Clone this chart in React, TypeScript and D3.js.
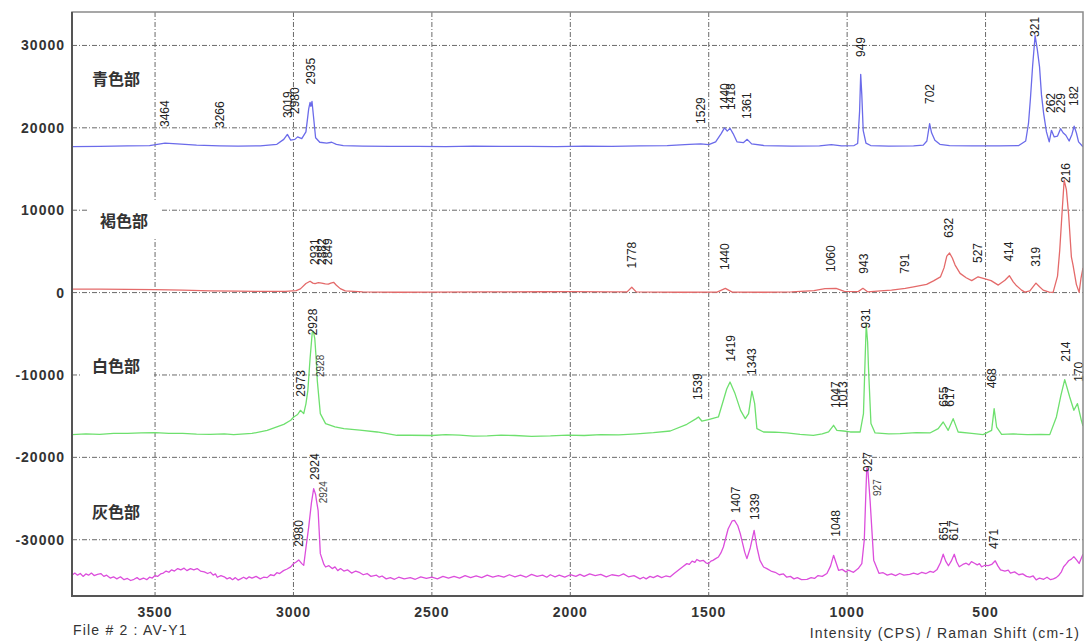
import React from "react";
import * as d3 from "d3";

type Pt = [number, number];
type Peak = { text: string; x: number; y: number };

// ---- axis ticks ----
const xTicks = [3500, 3000, 2500, 2000, 1500, 1000, 500];
const yTicks = [30000, 20000, 10000, 0, -10000, -20000, -30000];

// ---- series names ----
const seriesNames = ["青色部", "褐色部", "白色部", "灰色部"];
const seriesNameLevels = [26000, 8800, -8800, -26500];

// ---- 青色部 (blue) ----
const blueSpectrum: Pt[] = [
  [3800, 17720], [3700, 17760], [3600, 17800], [3520, 17850], [3464, 18150], [3420, 18050],
  [3350, 17900], [3266, 17820], [3200, 17780], [3120, 17820], [3060, 18000], [3035, 18600],
  [3022, 19200], [3010, 18500], [2995, 18600], [2985, 18900], [2970, 18700], [2955, 19500],
  [2945, 22300], [2940, 23100], [2937, 22600], [2933, 23200], [2928, 21500], [2920, 18800],
  [2905, 18250], [2880, 18150], [2862, 18250], [2845, 18000], [2820, 17850], [2750, 17780],
  [2650, 17740], [2550, 17760], [2450, 17720], [2350, 17780], [2250, 17740], [2150, 17760],
  [2050, 17720], [1950, 17780], [1850, 17760], [1750, 17800], [1650, 17850], [1570, 18000],
  [1529, 18050], [1500, 17950], [1475, 18300], [1455, 19300], [1443, 20000], [1433, 19600],
  [1423, 19950], [1412, 19300], [1398, 18300], [1375, 18200], [1361, 18600], [1345, 18050],
  [1300, 17850], [1200, 17780], [1100, 17800], [1057, 17950], [1020, 17820], [975, 17850],
  [962, 18100], [955, 22000], [951, 26500], [947, 24000], [942, 19700], [932, 18150],
  [915, 17850], [850, 17780], [760, 17800], [725, 17900], [712, 18400], [702, 20500],
  [695, 19400], [683, 18500], [665, 18000], [630, 17850], [550, 17800], [450, 17800],
  [380, 17850], [355, 18400], [345, 20500], [338, 23500], [330, 27500], [321, 31200],
  [313, 29500], [305, 27400], [298, 24000], [290, 21700], [280, 19500], [270, 18300],
  [262, 19700], [252, 18900], [240, 19000], [229, 19900], [220, 19400], [210, 19100],
  [198, 18400], [188, 19200], [180, 20200], [172, 19400], [164, 18300], [148, 17700],
];
const bluePeaks: Peak[] = [
  { text: "3464", x: 3464, y: 20100 }, { text: "3266", x: 3266, y: 19980 },
  { text: "3019", x: 3019, y: 21190 }, { text: "2980", x: 2995, y: 21680 },
  { text: "2935", x: 2935, y: 25260 }, { text: "1529", x: 1529, y: 20470 },
  { text: "1440", x: 1440, y: 22170 }, { text: "1418", x: 1418, y: 22170 },
  { text: "1361", x: 1361, y: 21070 }, { text: "949", x: 949, y: 28600 },
  { text: "702", x: 702, y: 22890 }, { text: "321", x: 321, y: 31030 },
  { text: "262", x: 262, y: 21800 }, { text: "229", x: 229, y: 21800 },
  { text: "182", x: 182, y: 22650 },
];

// ---- 褐色部 (red) ----
const redSpectrum: Pt[] = [
  [3800, 430], [3700, 420], [3600, 390], [3500, 360], [3400, 300], [3300, 220], [3200, 170],
  [3100, 150], [3030, 150], [2990, 250], [2975, 450], [2955, 1100], [2940, 1380], [2930, 1150],
  [2922, 1100], [2910, 1200], [2898, 1150], [2885, 1050], [2874, 1020], [2865, 1150],
  [2855, 1250], [2845, 900], [2831, 480], [2813, 200], [2750, 80], [2620, 40], [2500, 60],
  [2300, 80], [2100, 100], [2000, 110], [1850, 80], [1795, 90], [1778, 650], [1762, 90],
  [1600, 40], [1470, 60], [1440, 520], [1415, 60], [1300, 40], [1200, 80], [1120, 250],
  [1080, 480], [1040, 500], [1010, 150], [960, 120], [943, 520], [925, 80], [880, 200],
  [840, 300], [790, 500], [760, 700], [713, 1000], [688, 1430], [663, 1900], [650, 3000],
  [640, 4430], [630, 4800], [620, 4200], [610, 3340], [592, 2330], [570, 1800], [550, 1450],
  [527, 1920], [505, 1700], [480, 1450], [454, 910], [430, 1500], [414, 2050], [400, 1300],
  [390, 900], [370, 300], [358, 60], [340, 200], [318, 1150], [305, 700], [292, 300],
  [270, 50], [256, 30], [240, 2000], [232, 5160], [224, 9500], [216, 13660], [208, 12500],
  [200, 9500], [190, 4350], [184, 3340], [172, 1000], [162, 30], [155, 1800], [148, 3000],
];
const redPeaks: Peak[] = [
  { text: "2931", x: 2922, y: 3350 }, { text: "2882", x: 2898, y: 3350 },
  { text: "2849", x: 2874, y: 3350 }, { text: "1778", x: 1778, y: 2930 },
  { text: "1440", x: 1440, y: 2740 }, { text: "1060", x: 1060, y: 2500 },
  { text: "943", x: 938, y: 2300 }, { text: "791", x: 791, y: 2300 },
  { text: "632", x: 632, y: 6660 }, { text: "527", x: 527, y: 3590 },
  { text: "414", x: 414, y: 3760 }, { text: "319", x: 319, y: 3130 },
  { text: "216", x: 208, y: 13300 },
];

// ---- 白色部 (green) ----
const greenSpectrum: Pt[] = [
  [3800, -17240], [3750, -17150], [3700, -17200], [3650, -17080], [3600, -17100], [3550, -17020],
  [3500, -17000], [3450, -17080], [3400, -17100], [3350, -17180], [3300, -17200], [3250, -17150],
  [3216, -17240], [3150, -17100], [3095, -16720], [3060, -16300], [3035, -15990], [3010, -15500],
  [2999, -15100], [2985, -14800], [2975, -14290], [2963, -14690], [2955, -13500], [2948, -11860],
  [2940, -8000], [2932, -4780], [2928, -4700], [2923, -5580], [2918, -8000], [2914, -10650],
  [2903, -14690], [2884, -15900], [2850, -16300], [2818, -16510], [2760, -16700], [2698, -16920],
  [2626, -17320], [2578, -17320], [2500, -17350], [2450, -17250], [2400, -17300], [2350, -17420],
  [2300, -17400], [2250, -17300], [2200, -17350], [2140, -17450], [2072, -17400], [2010, -17300],
  [1950, -17350], [1890, -17250], [1825, -17280], [1760, -17150], [1700, -17000], [1639, -16800],
  [1579, -15990], [1545, -15300], [1537, -15100], [1525, -15590], [1501, -15420], [1465, -15100],
  [1447, -13070], [1435, -11700], [1423, -10850], [1405, -12260], [1385, -14300], [1368, -15300],
  [1356, -14690], [1344, -11950], [1334, -13480], [1326, -16510], [1302, -16920], [1260, -16950],
  [1218, -17040], [1170, -17200], [1122, -17320], [1090, -17150], [1067, -16920], [1049, -16110],
  [1037, -16720], [1013, -16800], [989, -16920], [953, -16920], [941, -14690], [935, -8000],
  [931, -3900], [926, -6000], [923, -9030], [914, -15900], [899, -17040], [850, -17150],
  [809, -17120], [750, -17000], [701, -17040], [671, -16510], [653, -15710], [635, -16720],
  [617, -15300], [599, -16920], [550, -17100], [509, -17240], [478, -16720], [469, -14080],
  [460, -16320], [442, -17200], [400, -17150], [350, -17250], [300, -17200], [268, -17240],
  [244, -15100], [228, -12500], [214, -10560], [196, -12670], [181, -14290], [168, -13480],
  [154, -15500], [148, -16200],
];
const greenPeaks: Peak[] = [
  { text: "2928", x: 2928, y: -5190 }, { text: "2973", x: 2973, y: -12640 },
  { text: "1539", x: 1539, y: -13040 }, { text: "1419", x: 1419, y: -8390 },
  { text: "1343", x: 1343, y: -10000 }, { text: "1047", x: 1040, y: -14010 },
  { text: "1013", x: 1016, y: -14010 }, { text: "931", x: 931, y: -4350 },
  { text: "655", x: 651, y: -13850 }, { text: "617", x: 630, y: -13850 },
  { text: "468", x: 475, y: -11620 }, { text: "214", x: 211, y: -8390 },
  { text: "170", x: 163, y: -10820 },
];
const greenMinorPeaks: Peak[] = [{ text: "2928", x: 2902, y: -10250 }];

// ---- 灰色部 (magenta) ----
const magentaSpectrum: Pt[] = [
  [3800, -34320], [3790, -34050], [3780, -34300], [3770, -34100], [3760, -34450], [3750, -34150],
  [3740, -34300], [3730, -34050], [3720, -34350], [3708, -34200], [3696, -34110], [3685, -34450],
  [3675, -34300], [3662, -34650], [3650, -34500], [3638, -34750], [3625, -34500], [3612, -34850],
  [3600, -34700], [3588, -34950], [3576, -34800], [3565, -34600], [3555, -34850], [3542, -34650],
  [3530, -34850], [3520, -34550], [3510, -34650], [3500, -34350], [3491, -34450], [3480, -34150],
  [3470, -34050], [3460, -33800], [3450, -33950], [3440, -33650], [3430, -33800], [3418, -33500],
  [3407, -33650], [3395, -33450], [3385, -33750], [3372, -33500], [3360, -33650], [3348, -33500],
  [3336, -33800], [3322, -33900], [3310, -34100], [3300, -33950], [3290, -34300], [3282, -34150],
  [3275, -34550], [3262, -34350], [3250, -34500], [3240, -34750], [3230, -34600], [3220, -34850],
  [3210, -34600], [3200, -34900], [3191, -34750], [3180, -34550], [3170, -34750], [3160, -34500],
  [3150, -34650], [3135, -34450], [3120, -34750], [3108, -34550], [3095, -34600], [3083, -34250],
  [3070, -34350], [3060, -34000], [3050, -34100], [3036, -33750], [3023, -33550], [3010, -33300],
  [3000, -32900], [2990, -32700], [2981, -32450], [2970, -32900], [2963, -33110], [2955, -31000],
  [2945, -28460], [2935, -25500], [2927, -23800], [2920, -24500], [2917, -25220], [2911, -26430],
  [2907, -29000], [2903, -31690], [2890, -33000], [2884, -33310], [2872, -33150], [2860, -33500],
  [2850, -33300], [2840, -33750], [2830, -33500], [2818, -33800], [2805, -33650], [2790, -34050],
  [2775, -33800], [2760, -34000], [2748, -34250], [2734, -34100], [2720, -34450], [2700, -34300],
  [2690, -34550], [2680, -34400], [2665, -34750], [2650, -34600], [2635, -34800], [2620, -34550],
  [2600, -34750], [2578, -34600], [2560, -34800], [2540, -34500], [2520, -34700], [2500, -34550],
  [2480, -34750], [2460, -34450], [2440, -34650], [2420, -34450], [2400, -34650], [2380, -34350],
  [2360, -34600], [2340, -34400], [2320, -34600], [2300, -34300], [2280, -34550], [2260, -34350],
  [2240, -34550], [2220, -34250], [2200, -34500], [2180, -34300], [2160, -34550], [2140, -34200],
  [2120, -34450], [2100, -34300], [2085, -34550], [2072, -34250], [2055, -34500], [2040, -34300],
  [2020, -34550], [2000, -34250], [1980, -34450], [1965, -34200], [1950, -34450], [1930, -34150],
  [1910, -34350], [1890, -34200], [1870, -34500], [1850, -34250], [1825, -34400], [1808, -34150],
  [1790, -34500], [1770, -34350], [1748, -34750], [1736, -34550], [1726, -34750], [1712, -34450],
  [1700, -34600], [1685, -34350], [1670, -34600], [1655, -34400], [1639, -34500], [1625, -34100],
  [1610, -33700], [1595, -33300], [1579, -32900], [1570, -33000], [1560, -32600], [1550, -32750],
  [1543, -32400], [1532, -32600], [1520, -32500], [1510, -32800], [1501, -32900], [1492, -32600],
  [1485, -32500], [1475, -32300], [1465, -32100], [1456, -31600], [1447, -30880], [1430, -28700],
  [1415, -27700], [1407, -27640], [1395, -28300], [1386, -29260], [1370, -31500], [1362, -32290],
  [1350, -31000], [1336, -28860], [1326, -30880], [1315, -32500], [1302, -33310], [1290, -33500],
  [1275, -33800], [1260, -33950], [1245, -34250], [1230, -34150], [1218, -34550], [1205, -34450],
  [1192, -34750], [1180, -34600], [1165, -34850], [1145, -34800], [1130, -34600], [1118, -34700],
  [1105, -34350], [1090, -34450], [1073, -34100], [1060, -33200], [1049, -31890], [1040, -32800],
  [1031, -33710], [1018, -33600], [1005, -33900], [995, -33700], [985, -33850], [977, -33950],
  [968, -33700], [960, -33500], [947, -32900], [938, -30000], [932, -24000], [929, -21280],
  [925, -21600], [917, -25280], [904, -32480], [885, -34080], [870, -34000], [855, -34300],
  [840, -34150], [825, -34350], [810, -34100], [795, -34300], [774, -34200], [760, -34050],
  [745, -34200], [730, -33950], [715, -34100], [700, -33850], [688, -33950], [675, -33600],
  [663, -32800], [653, -31760], [644, -32600], [634, -33160], [624, -32600], [613, -31760],
  [604, -32700], [595, -33280], [582, -33000], [570, -32850], [560, -33050], [551, -32650],
  [540, -32850], [530, -33050], [522, -32900], [514, -33280], [502, -33100], [490, -33150],
  [478, -33000], [465, -32560], [455, -33200], [446, -33650], [430, -33800], [418, -33700],
  [410, -34050], [395, -33900], [380, -34250], [366, -34150], [352, -34450], [340, -34550],
  [328, -34400], [317, -34880], [305, -34650], [290, -34800], [278, -34550], [265, -34850],
  [255, -34750], [245, -34600], [235, -34300], [226, -33900], [218, -33280], [208, -32900],
  [200, -32550], [190, -32350], [181, -32050], [170, -32500], [162, -32880], [155, -32300],
  [148, -31760],
];
const magentaPeaks: Peak[] = [
  { text: "2980", x: 2980, y: -30850 }, { text: "2924", x: 2924, y: -22750 },
  { text: "1407", x: 1403, y: -26790 }, { text: "1339", x: 1332, y: -27600 },
  { text: "1048", x: 1042, y: -29630 }, { text: "927", x: 925, y: -21780 },
  { text: "651", x: 651, y: -30080 }, { text: "617", x: 614, y: -30080 },
  { text: "471", x: 468, y: -31120 },
];
const magentaMinorPeaks: Peak[] = [
  { text: "2924", x: 2892, y: -25580 }, { text: "927", x: 889, y: -24690 },
];

const spectra = [
  { data: blueSpectrum, peaks: bluePeaks, minor: [] as Peak[], color: "#6b6bea" },
  { data: redSpectrum, peaks: redPeaks, minor: [] as Peak[], color: "#e46a6a" },
  { data: greenSpectrum, peaks: greenPeaks, minor: greenMinorPeaks, color: "#6ee06e" },
  { data: magentaSpectrum, peaks: magentaPeaks, minor: magentaMinorPeaks, color: "#dc4edc" },
];

const W = 1086;
const H = 644;
const L = 72, R = 1083, T = 12, B = 596;
const FONT = "'Liberation Sans', Arial, sans-serif";
const CJK = "'Noto Sans CJK JP', 'Noto Sans CJK SC', sans-serif";

export default function App() {
  const x = d3.scaleLinear().domain([3800, 148]).range([L, R]);
  const y = d3.scaleLinear().domain([34060, -36830]).range([T, B]);
  const line = d3.line<Pt>().x((d) => x(d[0])).y((d) => y(d[1]));

  const nameBoxes = [
    null,
    { x0: 88, x1: 162, y0: 200, y1: 237 },
    { x0: 80, x1: 154, y0: 352, y1: 379 },
    null,
  ];

  return (
    <svg
      width={W}
      height={H}
      style={{ position: "absolute", left: 0, top: 0, background: "#fff" }}
      fontFamily={FONT}
    >
      <defs>
        <clipPath id="plot">
          <rect x={L} y={T} width={R - L} height={B - T} />
        </clipPath>
      </defs>
      <rect x={0} y={0} width={W} height={H} fill="#fff" />

      {/* grid */}
      {xTicks.map((t) => (
        <line key={"gx" + t} x1={x(t)} x2={x(t)} y1={T} y2={B}
          stroke="#6a6a6a" strokeWidth={1} strokeDasharray="5 2 1 2" />
      ))}
      {yTicks.map((t) => (
        <line key={"gy" + t} x1={L} x2={R} y1={y(t)} y2={y(t)}
          stroke="#6a6a6a" strokeWidth={1} strokeDasharray="5 2 1 2" />
      ))}

      {/* white boxes behind series names */}
      {nameBoxes.map((b, i) =>
        b ? <rect key={"nb" + i} x={b.x0} y={b.y0} width={b.x1 - b.x0} height={b.y1 - b.y0} fill="#fff" /> : null
      )}

      {/* spectra */}
      <g clipPath="url(#plot)">
        {spectra.map((s, i) => (
          <path key={"s" + i} d={line(s.data) || ""} fill="none" stroke={s.color}
            strokeWidth={1.3} strokeLinejoin="round" />
        ))}
      </g>

      {/* peak labels */}
      {spectra.map((s, i) => (
        <g key={"p" + i}>
          {s.peaks.map((p, j) => (
            <text key={j} transform={`translate(${x(p.x)},${y(p.y)}) rotate(-90)`}
              fontSize={12} fill="#222" dominantBaseline="central">
              {p.text}
            </text>
          ))}
          {s.minor.map((p, j) => (
            <text key={"m" + j} transform={`translate(${x(p.x)},${y(p.y)}) rotate(-90)`}
              fontSize={10} fill="#444" dominantBaseline="central">
              {p.text}
            </text>
          ))}
        </g>
      ))}

      {/* series names */}
      {seriesNames.map((n, i) => (
        <text key={"n" + i} x={i === 1 ? 100 : 92} y={y(seriesNameLevels[i])}
          fontFamily={CJK} fontSize={16} fontWeight="bold" fill="#333" dominantBaseline="central">
          {n}
        </text>
      ))}

      {/* frame */}
      <rect x={L} y={T} width={R - L} height={B - T} fill="none" stroke="#8a8a8a" strokeWidth={1.5} />
      <line x1={L} x2={L} y1={T} y2={B + 1} stroke="#555" strokeWidth={2} />
      <line x1={L} x2={R} y1={B} y2={B} stroke="#555" strokeWidth={2} />

      {/* y tick labels */}
      {yTicks.map((t) => (
        <text key={"yl" + t} x={65} y={y(t)} textAnchor="end" dominantBaseline="central"
          fontSize={14} fontWeight="bold" fill="#333" letterSpacing={1}>
          {t}
        </text>
      ))}

      {/* x tick labels */}
      {xTicks.map((t) => (
        <text key={"xl" + t} x={x(t)} y={612} textAnchor="middle" dominantBaseline="central"
          fontSize={14} fontWeight="bold" fill="#333" letterSpacing={1}>
          {t}
        </text>
      ))}

      <text x={73} y={630} dominantBaseline="central" fontSize={14} fill="#333" letterSpacing={1.2}>
        File # 2 : AV-Y1
      </text>
      <text x={1080} y={633} textAnchor="end" dominantBaseline="central" fontSize={14} fill="#333" letterSpacing={1.2}>
        Intensity (CPS) / Raman Shift (cm-1)
      </text>
    </svg>
  );
}
